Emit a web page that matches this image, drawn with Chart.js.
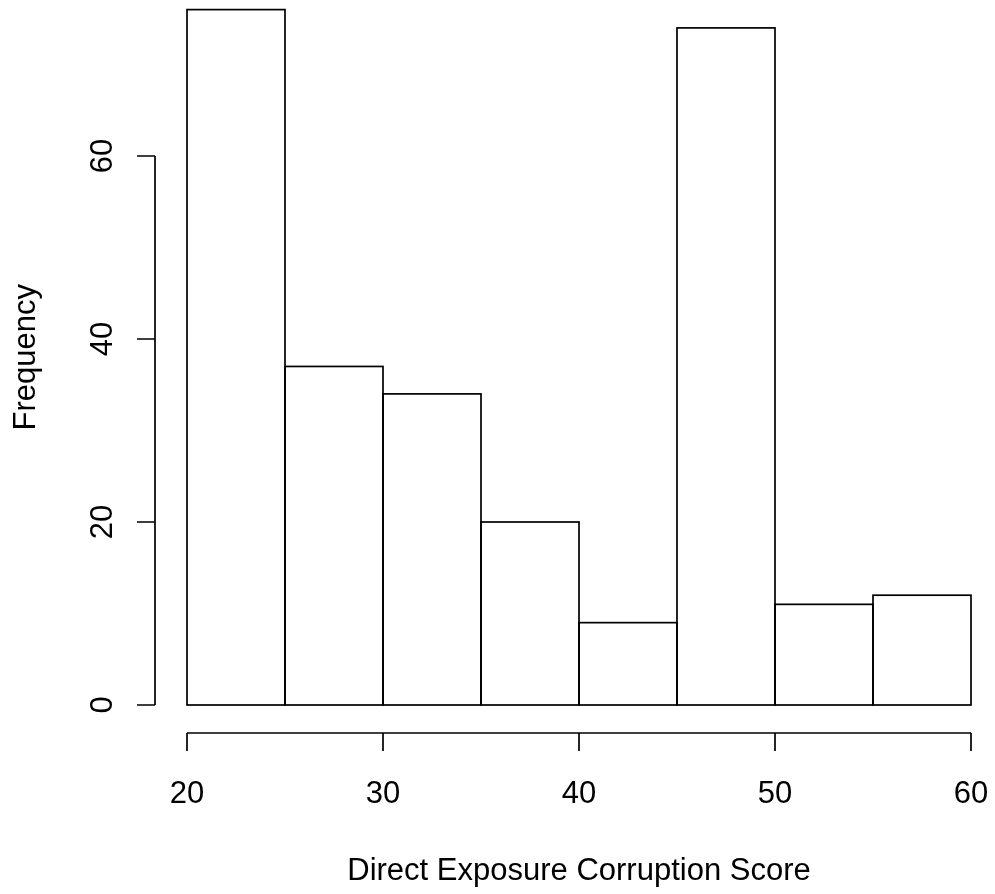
<!DOCTYPE html>
<html>
<head>
<meta charset="utf-8">
<script src="https://cdn.jsdelivr.net/npm/chart.js@4"></script>
<style>
html,body{margin:0;padding:0;background:#fff;}
#c{display:block;}
</style>
</head>
<body>
<canvas id="c" width="995" height="894"></canvas>
<script>
// ---- data ----
const binStarts = [20, 25, 30, 35, 40, 45, 50, 55];
const binWidth = 5;
const counts = [76, 37, 34, 20, 9, 74, 11, 12];
const xTicks = [20, 30, 40, 50, 60];
const yTicks = [0, 20, 40, 60];
const xTitle = 'Direct Exposure Corruption Score';
const yTitle = 'Frequency';

const FONT = '31px "Liberation Sans", Arial, sans-serif';
const LW = 1.7;

const rAxes = {
  id: 'rAxes',
  afterDatasetsDraw(chart) {
    const ctx = chart.ctx;
    const xs = chart.scales.x, ys = chart.scales.y;
    const meta = chart.getDatasetMeta(0);
    ctx.save();
    ctx.strokeStyle = '#000';
    ctx.lineWidth = LW;
    // bar outlines
    meta.data.forEach(bar => {
      const p = bar.getProps(['x', 'y', 'base', 'width'], true);
      ctx.strokeRect(p.x - p.width / 2, p.y, p.width, p.base - p.y);
    });
    // x axis
    const xAxisY = ys.getPixelForValue(0) + 28;
    const x0 = xs.getPixelForValue(xTicks[0]);
    const x1 = xs.getPixelForValue(xTicks[xTicks.length - 1]);
    ctx.beginPath();
    ctx.moveTo(x0, xAxisY); ctx.lineTo(x1, xAxisY);
    xTicks.forEach(t => {
      const px = xs.getPixelForValue(t);
      ctx.moveTo(px, xAxisY); ctx.lineTo(px, xAxisY + 18);
    });
    ctx.stroke();
    ctx.fillStyle = '#000';
    ctx.font = FONT;
    ctx.textAlign = 'center';
    ctx.textBaseline = 'alphabetic';
    xTicks.forEach(t => {
      ctx.fillText(String(t), xs.getPixelForValue(t), 803);
    });
    ctx.fillText(xTitle, (chart.chartArea.left + chart.chartArea.right) / 2, 880);
    // y axis
    const yAxisX = xs.getPixelForValue(xTicks[0]) - 32;
    const yb = ys.getPixelForValue(yTicks[0]);
    const yt = ys.getPixelForValue(yTicks[yTicks.length - 1]);
    ctx.beginPath();
    ctx.moveTo(yAxisX, yb); ctx.lineTo(yAxisX, yt);
    yTicks.forEach(t => {
      const py = ys.getPixelForValue(t);
      ctx.moveTo(yAxisX, py); ctx.lineTo(yAxisX - 18, py);
    });
    ctx.stroke();
    yTicks.forEach(t => {
      const py = ys.getPixelForValue(t);
      ctx.save();
      ctx.translate(111.5, py);
      ctx.rotate(-Math.PI / 2);
      ctx.fillText(String(t), 0, 0);
      ctx.restore();
    });
    ctx.save();
    ctx.translate(34.5, ys.getPixelForValue(38));
    ctx.rotate(-Math.PI / 2);
    ctx.fillText(yTitle, 0, 0);
    ctx.restore();
    ctx.restore();
  }
};

new Chart(document.getElementById('c'), {
  type: 'bar',
  data: {
    datasets: [{
      label: yTitle,
      data: binStarts.map((s, i) => ({ x: s + binWidth / 2, y: counts[i] })),
      backgroundColor: '#ffffff',
      borderWidth: 0,
      barPercentage: 1,
      categoryPercentage: 1
    }]
  },
  options: {
    responsive: false,
    animation: false,
    layout: { padding: { left: 187, right: 24, top: 0, bottom: 189 } },
    plugins: { legend: { display: false }, tooltip: { enabled: false } },
    scales: {
      x: { type: 'linear', min: 20, max: 60, offset: false, display: false },
      y: { min: 0, max: 77.05, display: false }
    }
  },
  plugins: [rAxes]
});
</script>
</body>
</html>
